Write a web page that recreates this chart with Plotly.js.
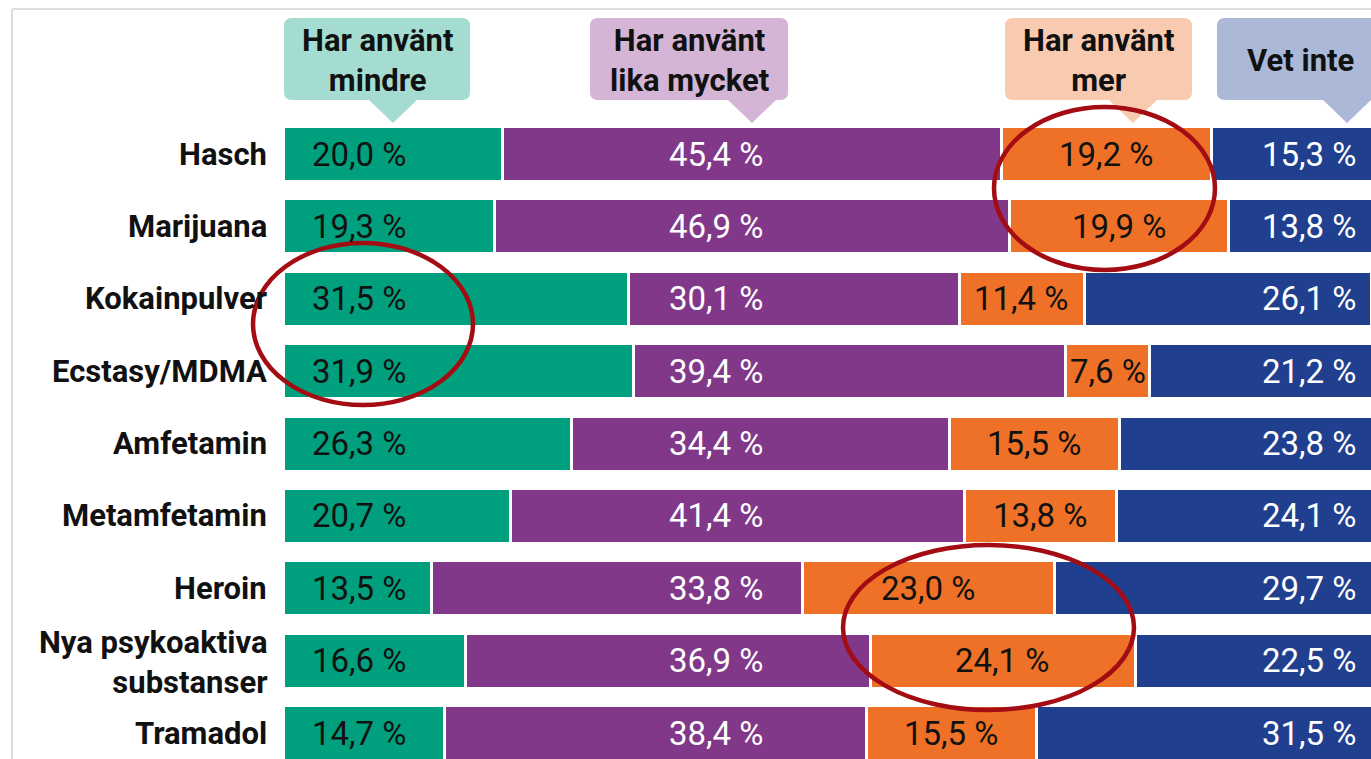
<!DOCTYPE html>
<html>
<head>
<meta charset="utf-8">
<script src="https://cdn.plot.ly/plotly-3.0.1.min.js"></script>
<style>
  html, body { margin: 0; padding: 0; background: #fff; }
  #chart { width: 1371px; height: 759px; }
</style>
</head>
<body>
<div id="chart"></div>
<script>
// ---------- data ----------
const categories = ['Hasch', 'Marijuana', 'Kokainpulver', 'Ecstasy/MDMA', 'Amfetamin',
                    'Metamfetamin', 'Heroin', 'Nya psykoaktiva<br>substanser', 'Tramadol'];
const mindre    = [20.0, 19.3, 31.5, 31.9, 26.3, 20.7, 13.5, 16.6, 14.7];
const likaMycket= [45.4, 46.9, 30.1, 39.4, 34.4, 41.4, 33.8, 36.9, 38.4];
const mer       = [19.2, 19.9, 11.4,  7.6, 15.5, 13.8, 23.0, 24.1, 15.5];
const vetInte   = [15.3, 13.8, 26.1, 21.2, 23.8, 24.1, 29.7, 22.5, 31.5];
const seriesNames = ['Har använt<br>mindre', 'Har använt<br>lika mycket', 'Har använt<br>mer', 'Vet inte'];

// ---------- styles ----------
const barColors    = ['#00a07e', '#823889', '#ee7127', '#213f8f'];
const headerColors = ['#a4dcd1', '#d4b5d6', '#f8cbb0', '#abb8d8'];
const labelColors  = ['#111111', '#ffffff', '#111111', '#ffffff'];
const FONT = 'Roboto, "Open Sans", Arial, sans-serif';
const VAL_SIZE = 33, CAT_SIZE = 31, HEAD_SIZE = 31;

// ---------- geometry helpers (pixel -> axis units) ----------
const W = 1371, H = 759;
const X0_PX = 283, PX_PER_PCT = 10.98, ROW0_PX = 154, ROW_PX = 72.375;
const px2x = px => (px - X0_PX) / PX_PER_PCT;
const py2y = py => (py - ROW0_PX) / ROW_PX;

const series = [mindre, likaMycket, mer, vetInte];
const traces = series.map((vals, i) => ({
  type: 'bar',
  orientation: 'h',
  name: seriesNames[i].replace('<br>', ' '),
  y: categories,
  x: vals,
  width: 0.76,
  marker: { color: barColors[i], line: { color: '#ffffff', width: 3 } },
  hoverinfo: 'skip',
  showlegend: false
}));

const fmt = v => v.toFixed(1).replace('.', ',') + ' %';

const annotations = [];
categories.forEach((c, r) => {
  annotations.push({ x: px2x(409), y: r, xref: 'x', yref: 'y', text: fmt(mindre[r]),
    xanchor: 'right', yanchor: 'middle', showarrow: false,
    font: { family: FONT, size: VAL_SIZE, color: labelColors[0] } });
  annotations.push({ x: px2x(766), y: r, xref: 'x', yref: 'y', text: fmt(likaMycket[r]),
    xanchor: 'right', yanchor: 'middle', showarrow: false,
    font: { family: FONT, size: VAL_SIZE, color: labelColors[1] } });
  annotations.push({ x: mindre[r] + likaMycket[r] + mer[r] / 2, y: r, xref: 'x', yref: 'y', text: fmt(mer[r]),
    xanchor: 'center', yanchor: 'middle', showarrow: false,
    font: { family: FONT, size: VAL_SIZE, color: labelColors[2] } });
  annotations.push({ x: px2x(1359), y: r, xref: 'x', yref: 'y', text: fmt(vetInte[r]),
    xanchor: 'right', yanchor: 'middle', showarrow: false,
    font: { family: FONT, size: VAL_SIZE, color: labelColors[3] } });
  // category label (multi-line labels kept as one text block)
  const multi = c.indexOf('<br>') >= 0;
  annotations.push({ x: 0, y: r, xref: 'x', yref: 'y',
    text: '<b>' + c.split('<br>').join('</b><br><b>') + '</b>',
    xanchor: 'right', yanchor: 'middle', align: 'right', xshift: -14, yshift: multi ? -2 : 0,
    showarrow: false, font: { family: FONT, size: CAT_SIZE, color: '#111111' } });
});

// ---------- header callouts ----------
const headers = [
  { x0: 284,  x1: 470,  tip: 393,  tc: 377 },
  { x0: 590,  x1: 788,  tip: 752,  tc: 689 },
  { x0: 1005, x1: 1192, tip: 1133, tc: 1098 },
  { x0: 1217, x1: 1400, tip: 1347, tc: 1300 }
];
const TOP = 18, BOT = 100, TIP = 123, HW = 24, R = 8;
const shapes = [];
headers.forEach((h, i) => {
  const X = px2x, Y = py2y;
  const d = [
    'M', X(h.x0 + R), Y(TOP),
    'L', X(h.x1 - R), Y(TOP),
    'Q', X(h.x1), Y(TOP), X(h.x1), Y(TOP + R),
    'L', X(h.x1), Y(BOT - R),
    'Q', X(h.x1), Y(BOT), X(h.x1 - R), Y(BOT),
    'L', X(h.tip + HW), Y(BOT),
    'L', X(h.tip), Y(TIP),
    'L', X(h.tip - HW), Y(BOT),
    'L', X(h.x0 + R), Y(BOT),
    'Q', X(h.x0), Y(BOT), X(h.x0), Y(BOT - R),
    'L', X(h.x0), Y(TOP + R),
    'Q', X(h.x0), Y(TOP), X(h.x0 + R), Y(TOP),
    'Z'
  ];
  let p = ''; let nums = [];
  const flush = () => { for (let j = 0; j < nums.length; j += 2) p += nums[j].toFixed(4) + ',' + nums[j + 1].toFixed(4) + ' '; nums = []; };
  d.forEach(v => { if (typeof v === 'string') { flush(); p += v + ' '; } else nums.push(v); });
  flush();
  shapes.push({ type: 'path', xref: 'x', yref: 'y', path: p.trim(),
    fillcolor: headerColors[i], line: { width: 0 }, layer: 'below' });
  annotations.push({ x: px2x(h.tc), y: py2y((TOP + BOT) / 2 + 1), xref: 'x', yref: 'y',
    text: '<b>' + seriesNames[i] + '</b>', showarrow: false, xanchor: 'center', yanchor: 'middle',
    align: 'center', font: { family: FONT, size: HEAD_SIZE, color: '#111111' } });
});

// frame lines
shapes.push({ type: 'line', xref: 'x', yref: 'y', x0: px2x(12), x1: px2x(W + 10), y0: py2y(9), y1: py2y(9),
  line: { color: '#dedede', width: 2 }, layer: 'below' });
shapes.push({ type: 'line', xref: 'x', yref: 'y', x0: px2x(12), x1: px2x(12), y0: py2y(9), y1: py2y(H + 10),
  line: { color: '#dedede', width: 2 }, layer: 'below' });

// red highlight ellipses
const ellipses = [
  [994, 1215, 107, 270],
  [253, 473, 243, 405],
  [843, 1134, 545, 710]
];
ellipses.forEach(e => shapes.push({ type: 'circle', xref: 'x', yref: 'y',
  x0: px2x(e[0]), x1: px2x(e[1]), y0: py2y(e[2]), y1: py2y(e[3]),
  line: { color: '#a30c12', width: 4.5 }, fillcolor: 'rgba(0,0,0,0)', layer: 'above' }));

const layout = {
  width: W, height: H,
  margin: { l: 0, r: 0, t: 0, b: 0, pad: 0 },
  paper_bgcolor: '#ffffff', plot_bgcolor: '#ffffff',
  barmode: 'stack',
  bargap: 0,
  showlegend: false,
  xaxis: { range: [px2x(0), px2x(W)], showgrid: false, zeroline: false, showticklabels: false,
           showline: false, ticks: '', fixedrange: true },
  yaxis: { type: 'category', categoryorder: 'array', categoryarray: categories,
           range: [py2y(H), py2y(0)], showgrid: false, zeroline: false, showticklabels: false,
           showline: false, ticks: '', fixedrange: true },
  shapes: shapes,
  annotations: annotations,
  font: { family: FONT }
};

Plotly.newPlot('chart', traces, layout, { displayModeBar: false, staticPlot: true });
</script>
</body>
</html>
